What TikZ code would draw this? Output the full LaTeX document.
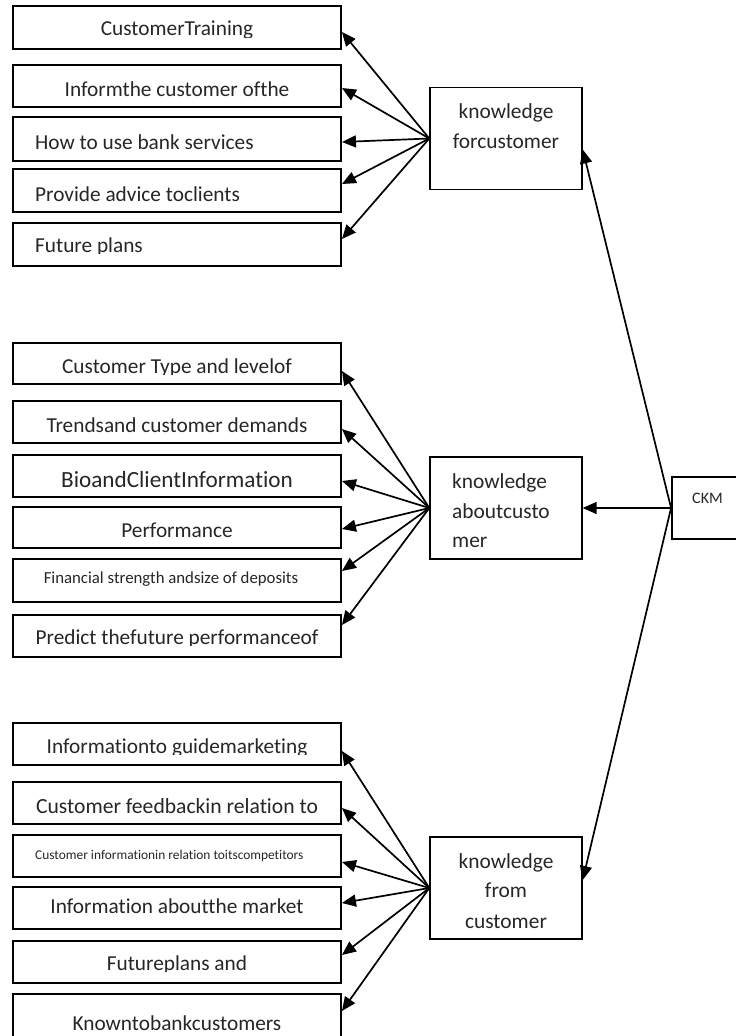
\documentclass[tikz,border=0pt]{standalone}
\usepackage{fontspec}
\setmainfont{Carlito}[Ligatures=NoCommon]
\usetikzlibrary{arrows.meta,calc}
\newcommand\fsM{\fontsize{21.3}{24}\selectfont}
\newcommand\fsK{\fontsize{21.4}{24}\selectfont}
\newcommand\fsL{\fontsize{21.6}{24}\selectfont}
\newcommand\fsB{\fontsize{23.2}{26}\selectfont}
\newcommand\fsS{\fontsize{16.8}{19}\selectfont}
\newcommand\fsT{\fontsize{13.4}{15}\selectfont}
\newcommand\fsC{\fontsize{16}{18}\selectfont}
\begin{document}
\begin{tikzpicture}[x=1pt,y=-1pt,
  box/.style={draw, line width=1.9pt, inner sep=0pt, minimum width=328pt},
  kbox/.style={draw, line width=1.9pt, inner sep=0pt, minimum width=151.5pt, minimum height=102pt},
  arr/.style={line width=1.7pt, -{Triangle[length=14pt,width=12pt]}},
  txt/.style={anchor=base, inner sep=0pt, font=\fsM, text=black!85},
  ltxt/.style={anchor=base west, inner sep=0pt, font=\fsM, text=black!85},
]
\useasboundingbox (0,0) rectangle (736,1036);
\clip (0,0) rectangle (736,1036);

% ---------- top group ----------
\node[box, minimum height=43pt] (t1) at (177,27.5) {};
\node[box, minimum height=42pt] (t2) at (177,86) {};
\node[box, minimum height=44pt] (t3) at (177,139) {};
\node[box, minimum height=43pt] (t4) at (177,190.5) {};
\node[box, minimum height=43pt] (t5) at (177,244.5) {};
\begin{scope}\clip (14,7) rectangle (340,37);
\node[txt] (t1l) at (177,35.5) {CustomerTraining};\end{scope}
\node[txt] (t2l) at (177,96) {Informthe customer ofthe};
\node[ltxt] (t3l) at (35,149) {How to use bank services};
\node[ltxt] (t4l) at (35,201) {Provide advice toclients};
\begin{scope}\clip (14,224) rectangle (340,253.5);
\node[ltxt] (t5l) at (35,252) {Future plans};\end{scope}

\node[kbox] (k1) at (506,138.5) {};
\node[txt, font=\fsK] (k1a) at (506,118) {knowledge};
\node[txt, font=\fsK] (k1b) at (506,148) {forcustomer};

\draw[arr] (k1.west) -- ([yshift=-4.5pt]t1.east);
\draw[arr] (k1.west) -- ([yshift=-2pt]t2.east);
\draw[arr] (k1.west) -- ([yshift=-3pt]t3.east);
\draw[arr] (k1.west) -- ([yshift=6.5pt]t4.east);
\draw[arr] (k1.west) -- ([yshift=5.5pt]t5.east);

% ---------- middle group ----------
\node[box, minimum height=41pt] (m1) at (177,363.5) {};
\node[box, minimum height=42pt] (m2) at (177,422) {};
\node[box, minimum height=42pt] (m3) at (177,476) {};
\node[box, minimum height=41pt] (m4) at (177,527.5) {};
\node[box, minimum height=43pt] (m5) at (177,580.5) {};
\node[box, minimum height=42pt] (m6) at (177,636) {};
\begin{scope}\clip (14,344) rectangle (340,374.5);
\node[txt] (m1l) at (177,373) {Customer Type and levelof};\end{scope}
\node[txt] (m2l) at (177,432) {Trendsand customer demands};
\begin{scope}\clip (14,456) rectangle (340,488.5);
\node[txt, font=\fsB] (m3l) at (177,487) {BioandClientInformation};\end{scope}
\node[txt] (m4l) at (177,537) {Performance};
\node[txt, font=\fsS] (m5l) at (171,583) {Financial strength andsize of deposits};
\begin{scope}\clip (14,616) rectangle (340,645.5);
\node[txt] (m6l) at (177,644) {Predict thefuture performanceof};\end{scope}

\node[kbox] (k2) at (506,508) {};
\node[ltxt, font=\fsK] (k2a) at (452,488) {knowledge};
\node[ltxt, font=\fsK] (k2b) at (452,518) {aboutcusto};
\node[ltxt, font=\fsK] (k2c) at (452,547) {mer};

\draw[arr] (k2.west) -- ([yshift=-7.5pt]m1.east);
\draw[arr] (k2.west) -- ([yshift=-7pt]m2.east);
\draw[arr] (k2.west) -- ([yshift=-5pt]m3.east);
\draw[arr] (k2.west) -- ([yshift=-1.5pt]m4.east);
\draw[arr] (k2.west) -- ([yshift=9.5pt]m5.east);
\draw[arr] (k2.west) -- ([yshift=11pt]m6.east);

% ---------- bottom group ----------
\node[box, minimum height=42pt] (b1) at (177,744) {};
\node[box, minimum height=42pt] (b2) at (177,803) {};
\node[box, minimum height=42pt] (b3) at (177,856) {};
\node[box, minimum height=42pt] (b4) at (177,908) {};
\node[box, minimum height=42pt] (b5) at (177,962) {};
\node[box, minimum height=48pt] (b6) at (177,1018) {};
\begin{scope}\clip (14,724) rectangle (340,754.5);
\node[txt] (b1l) at (177,753) {Informationto guidemarketing};\end{scope}
\node[txt, font=\fsL] (b2l) at (177,813) {Customer feedbackin relation to};
\node[ltxt, font=\fsT] (b3l) at (35,859) {Customer informationin relation toitscompetitors};
\node[txt] (b4l) at (177,913) {Information aboutthe market};
\begin{scope}\clip (14,942) rectangle (340,971.5);
\node[txt] (b5l) at (177,970) {Futureplans and};\end{scope}
\node[txt] (b6l) at (177,1030) {Knowntobankcustomers};

\node[kbox] (k3) at (506,888) {};
\node[txt, font=\fsK] (k3a) at (506,868) {knowledge};
\node[txt, font=\fsK] (k3b) at (506,897) {from};
\node[txt, font=\fsK] (k3c) at (506,928) {customer};

\draw[arr] (k3.west) -- ([yshift=-7pt]b1.east);
\draw[arr] (k3.west) -- ([yshift=-5pt]b2.east);
\draw[arr] (k3.west) -- ([yshift=-6pt]b3.east);
\draw[arr] (k3.west) -- ([yshift=5pt]b4.east);
\draw[arr] (k3.west) -- ([yshift=7pt]b5.east);
\draw[arr] (k3.west) -- ([yshift=7pt]b6.east);

% ---------- CKM ----------
\node[draw, line width=1.9pt, inner sep=0pt, minimum width=74pt, minimum height=62pt] (ckm) at (709,508) {};
\node[txt, font=\fsC] (ckml) at (707.5,503) {CKM};
\draw[arr] (ckm.west) -- ([yshift=-11pt]k1.east);
\draw[arr] (ckm.west) -- (k2.east);
\draw[arr] (ckm.west) -- ([yshift=8pt]k3.east);
\end{tikzpicture}
\end{document}
